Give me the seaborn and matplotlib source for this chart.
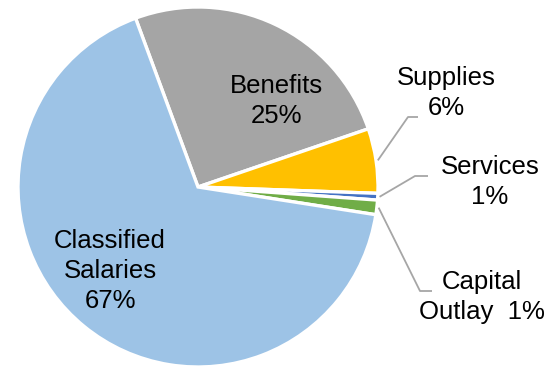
import numpy as np
import matplotlib
matplotlib.use("Agg")
import matplotlib.pyplot as plt
import seaborn as sns

# Budget shares (percent), drawn clockwise starting with Benefits
categories = ["Benefits", "Supplies", "Services", "Capital Outlay", "Classified Salaries"]
shares = [25.4, 5.8, 0.6, 1.3, 66.9]
colors = ["#A5A5A5", "#FFC000", "#4472C4", "#70AD47", "#9DC3E6"]

sns.set_theme(style="white")
plt.rcParams["font.family"] = ["Liberation Sans", "DejaVu Sans"]

W, H = 551, 367
CX, CY, R = 198, 187, 180  # pie centre and radius in pixels


def px(x, y):
    """Pixel position (from top-left) to data coordinates of the unit pie."""
    return (x - CX) / R, (CY - y) / R


fig = plt.figure(figsize=(W / 100, H / 100), dpi=100)
ax = fig.add_axes([0, 0, 1, 1])

start = 110.3
wedges, _ = ax.pie(
    shares,
    colors=colors,
    startangle=start,
    counterclock=False,
    radius=1.0,
    wedgeprops=dict(edgecolor="white", linewidth=2.4),
)
ax.set_xlim(-CX / R, (W - CX) / R)
ax.set_ylim(-(H - CY) / R, CY / R)
ax.set_aspect("equal")
ax.axis("off")

FS = 18.5
LS = 1.32

# Inside labels
ax.text(*px(276, 101), "Benefits\n" + f"{shares[0]:.0f}%", ha="center", va="center",
        fontsize=FS, color="black", linespacing=LS)
ax.text(*px(110, 271), "Classified\nSalaries\n" + f"{shares[4]:.0f}%", ha="center",
        va="center", fontsize=FS, color="black", linespacing=LS)

# Outside labels with elbow leader lines
outside = [
    (1, "Supplies\n" + f"{shares[1]:.0f}%", (446, 93), [(408, 117), (418, 117)]),
    (2, "Services\n" + f"{shares[2]:.0f}%", (490, 182), [(415, 176), (428, 176)]),
    (3, "Capital\nOutlay  " + f"{shares[3]:.0f}%", (482, 297), [(420, 291), (432, 291)]),
]
for idx, text, pos, elbow in outside:
    w = wedges[idx]
    mid = np.deg2rad((w.theta1 + w.theta2) / 2)
    x0, y0 = 1.01 * np.cos(mid), 1.01 * np.sin(mid)
    pts = [(x0, y0)] + [px(*p) for p in elbow]
    xs, ys = zip(*pts)
    ax.plot(xs, ys, color="#A6A6A6", linewidth=1.3, solid_capstyle="butt")
    ax.text(*px(*pos), text, ha="center", va="center", fontsize=FS,
            color="black", linespacing=LS)

fig.savefig("out.png", dpi=100, facecolor="white")
